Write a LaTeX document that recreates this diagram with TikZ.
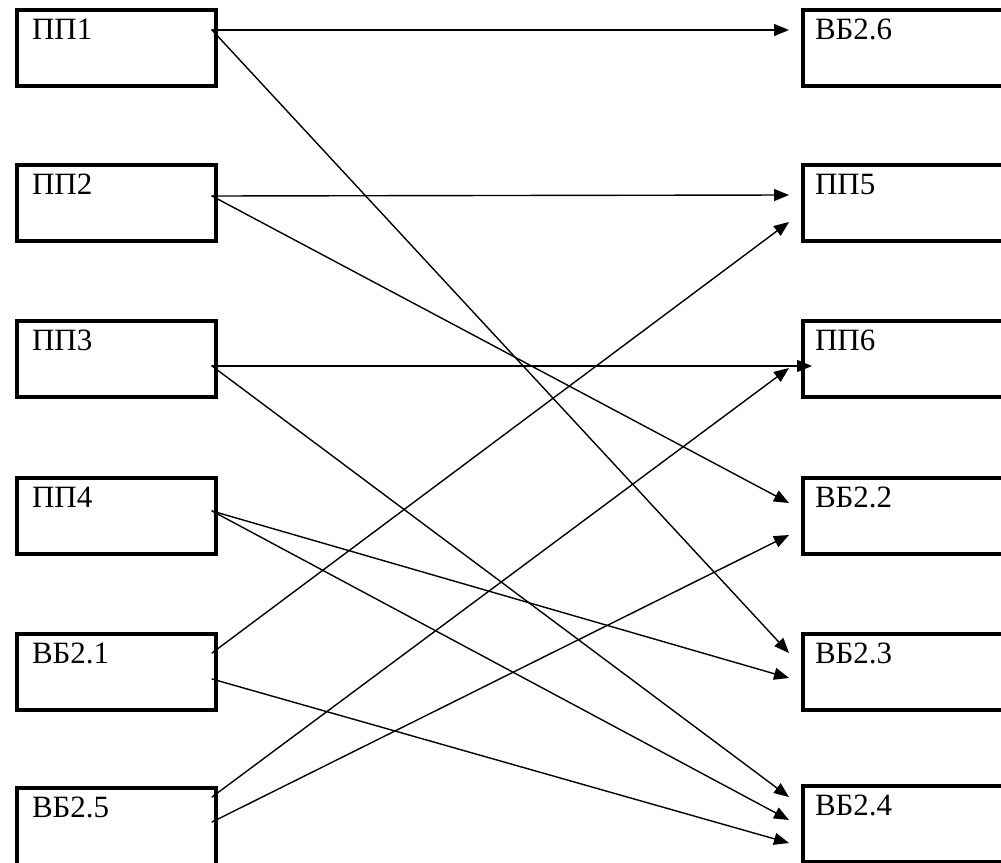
\documentclass[tikz,border=0pt]{standalone}
\usepackage{fontspec}
\setmainfont{Liberation Serif}
\usetikzlibrary{arrows.meta}

\begin{document}
\begin{tikzpicture}[x=1pt,y=-1pt,
  box/.style={draw, line width=4pt, rectangle, outer sep=0pt, inner ysep=0pt,
    minimum height=76pt, text height=29pt, text depth=47pt, align=left,
    anchor=north west, font=\fontsize{31}{31}\selectfont},
  leftbox/.style={box, inner xsep=15pt, text width=169pt},
  rightbox/.style={box, inner xsep=12pt, text width=180pt},
  conn/.style={line width=1.4pt, line cap=round,
    -{Triangle[length=15pt,width=12pt]}}]

\useasboundingbox (0,0) rectangle (1001,862);

% sources
\node[leftbox] (L1) at (17,10)  {ПП1};
\node[leftbox] (L2) at (17,165) {ПП2};
\node[leftbox] (L3) at (17,321) {ПП3};
\node[leftbox] (L4) at (17,478) {ПП4};
\node[leftbox] (L5) at (17,634) {ВБ2.1};
\node[leftbox, minimum height=84pt, text depth=55pt] (L6) at (17,788) {ВБ2.5};

% targets
\node[rightbox] (R1) at (803,10)  {ВБ2.6};
\node[rightbox] (R2) at (803,165) {ПП5};
\node[rightbox] (R3) at (803,321) {ПП6};
\node[rightbox] (R4) at (803,478) {ВБ2.2};
\node[rightbox] (R5) at (803,634) {ВБ2.3};
\node[rightbox] (R6) at (803,786) {ВБ2.4};

% links
\draw[conn] ([shift={(-4,20)}]L1.north east) -- ([shift={(-14,20)}]R1.north west);
\draw[conn] ([shift={(-4,20)}]L1.north east) -- ([shift={(-14,19)}]R5.north west);

\draw[conn] ([shift={(-4,31)}]L2.north east) -- ([shift={(-14,30)}]R2.north west);
\draw[conn] ([shift={(-4,31)}]L2.north east) -- ([shift={(-14,25)}]R4.north west);

\draw[conn] ([shift={(-4,45)}]L3.north east) -- ([shift={(9,45)}]R3.north west);
\draw[conn] ([shift={(-4,45)}]L3.north east) -- ([shift={(-14,11)}]R6.north west);

\draw[conn] ([shift={(-4,33)}]L4.north east) -- ([shift={(-14,44)}]R5.north west);
\draw[conn] ([shift={(-4,33)}]L4.north east) -- ([shift={(-14,34)}]R6.north west);

\draw[conn] ([shift={(-4,19)}]L5.north east) -- ([shift={(-14,57)}]R2.north west);
\draw[conn] ([shift={(-4,45)}]L5.north east) -- ([shift={(-14,57)}]R6.north west);

\draw[conn] ([shift={(-4,9)}]L6.north east) -- ([shift={(-14,47)}]R3.north west);
\draw[conn] ([shift={(-4,34)}]L6.north east) -- ([shift={(-14,57)}]R4.north west);
\end{tikzpicture}
\end{document}
